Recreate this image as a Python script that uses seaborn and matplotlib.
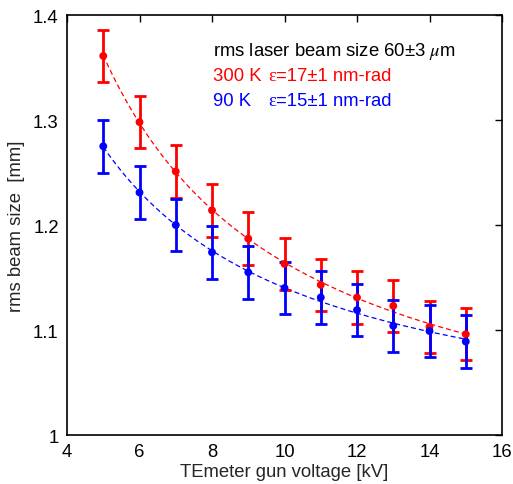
import numpy as np
import pandas as pd
import matplotlib
matplotlib.use("Agg")
import matplotlib.pyplot as plt
import seaborn as sns

voltage = [5, 6, 7, 8, 9, 10, 11, 12, 13, 14, 15]
size_300K = [1.361, 1.298, 1.251, 1.214, 1.187, 1.163, 1.143, 1.131, 1.123, 1.103, 1.096]
size_90K = [1.275, 1.231, 1.200, 1.174, 1.155, 1.140, 1.131, 1.119, 1.104, 1.099, 1.089]
err_300K = [0.025] * 11
err_90K = [0.025] * 11
x_ticks = [4, 6, 8, 10, 12, 14, 16]
y_ticks = [1.0, 1.1, 1.2, 1.3, 1.4]
y_ticklabels = ["1", "1.1", "1.2", "1.3", "1.4"]

sns.set_style("white")
plt.rcParams["font.family"] = ["Liberation Sans", "DejaVu Sans"]
plt.rcParams["mathtext.fontset"] = "stix"

fig = plt.figure(figsize=(5.13, 4.85), dpi=100)
ax = fig.add_axes([0.1306, 0.101, 0.848, 0.866])

df = pd.DataFrame({
    "V": voltage * 2,
    "size": size_300K + size_90K,
    "err": err_300K + err_90K,
    "T": ["300 K"] * 11 + ["90 K"] * 11,
})
palette = {"300 K": "#ff0000", "90 K": "#0000ff"}

# smooth fit curves through the data
xf = np.linspace(min(voltage), max(voltage), 200)
fits = []
for T in ["300 K", "90 K"]:
    sub = df[df["T"] == T]
    c = np.polyfit(1.0 / sub["V"], sub["size"], 2)
    fits.append(pd.DataFrame({"V": xf, "size": np.polyval(c, 1.0 / xf), "T": T}))
fit_df = pd.concat(fits)
sns.lineplot(data=fit_df, x="V", y="size", hue="T", palette=palette, ax=ax,
             legend=False, linewidth=0.9, linestyle=(0, (4, 2.5)))

for T in ["300 K", "90 K"]:
    sub = df[df["T"] == T]
    ax.errorbar(sub["V"], sub["size"], yerr=sub["err"], fmt="none",
                ecolor=palette[T], elinewidth=2.0, capsize=4.5, capthick=2.0)
sns.scatterplot(data=df, x="V", y="size", hue="T", palette=palette, ax=ax,
                legend=False, s=32, edgecolor="none", zorder=5)

fs = 13.3
ax.set_xlim(4, 16)
ax.set_ylim(1.0, 1.4)
ax.set_xticks(x_ticks)
ax.set_yticks(y_ticks)
ax.set_yticklabels(y_ticklabels)
ax.tick_params(direction="in", length=5, width=1, top=True, right=True,
               labelsize=fs, colors="black", pad=6)
for sp in ax.spines.values():
    sp.set_color("black")
    sp.set_linewidth(1.2)
ax.set_xlabel("TEmeter gun voltage [kV]", fontsize=fs, labelpad=2)
ax.set_ylabel("rms beam size  [mm]", fontsize=fs, labelpad=6)

ax.text(0.336, 0.905, r"rms laser beam size 60±3 $\mu$m", transform=ax.transAxes,
        fontsize=fs, color="black")

legend_lines = [("300 K", "=17±1 nm-rad", "#ff0000", 0.845),
                ("90 K", "=15±1 nm-rad", "#0000ff", 0.786)]
for label, rest, col, yy in legend_lines:
    ax.text(0.336, yy, label, transform=ax.transAxes, fontsize=fs, color=col)
    eps = ax.text(0.462, yy, "ε", transform=ax.transAxes, fontsize=fs,
                  color=col, family=["Liberation Serif", "DejaVu Serif"],
                  va="baseline")
    ax.annotate(rest, xy=(1, 0), xycoords=eps, va="bottom", ha="left",
                fontsize=fs, color=col)

fig.savefig("out.png", dpi=100)
